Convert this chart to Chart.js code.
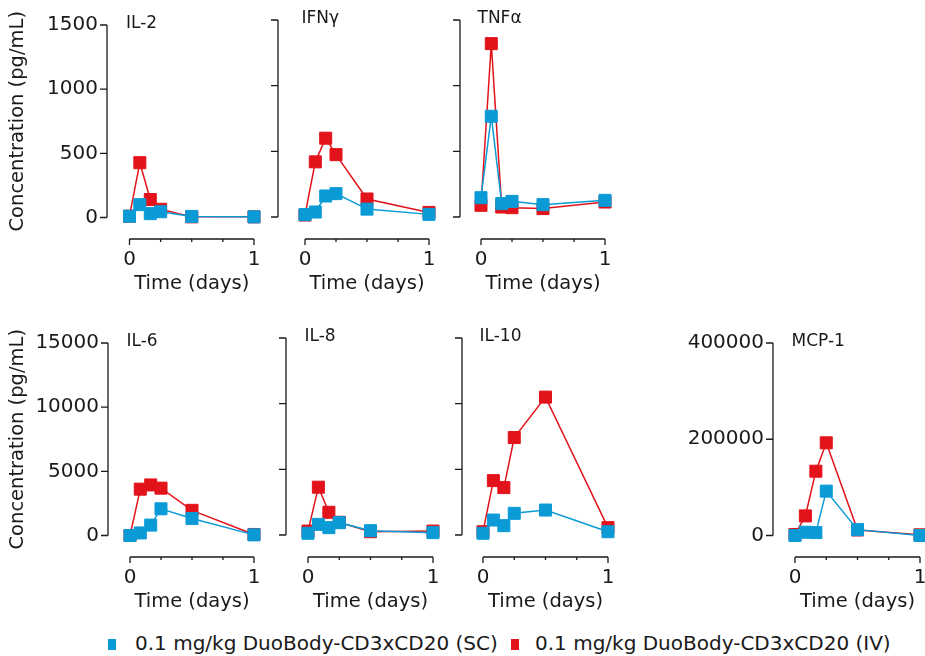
<!DOCTYPE html>
<html>
<head>
<meta charset="utf-8">
<script src="https://cdn.jsdelivr.net/npm/chart.js@4.4.1/dist/chart.umd.min.js"></script>
<style>
  body { margin: 0; background: #fff; }
  #page { position: relative; width: 925px; height: 656px; overflow: hidden; font-family: "DejaVu Sans", sans-serif; color: #1a1a1a; }
  #page canvas { position: absolute; }
  .lg-box { position: absolute; width: 8px; height: 11px; }
  .lg-text { position: absolute; font-size: 20px; line-height: 22px; white-space: nowrap; }
</style>
</head>
<body>
<div id="page">
  <span class="lg-box" style="left:108px; top:639px; background:#0a9bd7"></span>
  <span class="lg-text" id="lg-sc" style="left:135px; top:632px"></span>
  <span class="lg-box" style="left:511px; top:639px; background:#e3131b"></span>
  <span class="lg-text" id="lg-iv" style="left:535px; top:632px"></span>
</div>
<script>
// --- Data ---
const timeDays = [0, 0.083, 0.167, 0.25, 0.5, 1];
const timeTicks = [0, 0.25, 0.5, 0.75, 1];
const seriesNames = ['0.1 mg/kg DuoBody-CD3xCD20 (SC)', '0.1 mg/kg DuoBody-CD3xCD20 (IV)'];
const panelNames = ['IL-2', 'IFNγ', 'TNFα', 'IL-6', 'IL-8', 'IL-10', 'MCP-1'];

const il2SC  = [10, 100, 30, 45, 8, 5];
const il2IV  = [10, 427, 140, 64, 5, 5];
const ifngSC = [18, 38, 160, 178, 60, 20];
const ifngIV = [15, 420, 600, 475, 137, 35];
const tnfaSC = [147, 767, 102, 119, 94, 127];
const tnfaIV = [89, 1320, 76, 71, 64, 114];
const il6SC  = [0, 200, 810, 2080, 1320, 50];
const il6IV  = [0, 3610, 3940, 3690, 1960, 80];
const il8SC  = [130, 810, 560, 940, 330, 180];
const il8IV  = [300, 3640, 1730, 970, 250, 300];
const il10SC = [130, 1140, 710, 1650, 1900, 250];
const il10IV = [250, 4140, 3610, 7420, 10500, 560];
const mcp1SC = [0, 6800, 6100, 92200, 12200, 0];
const mcp1IV = [2000, 40700, 133600, 192600, 11500, 1400];

const yTicksSmall = [0, 500, 1000, 1500];
const yTicksMid   = [0, 5000, 10000, 15000];
const yTicksLarge = [0, 200000, 400000];

const scSets = [il2SC, ifngSC, tnfaSC, il6SC, il8SC, il10SC, mcp1SC];
const ivSets = [il2IV, ifngIV, tnfaIV, il6IV, il8IV, il10IV, mcp1IV];
const yTickSets = [yTicksSmall, yTicksSmall, yTicksSmall, yTicksMid, yTicksMid, yTicksMid, yTicksLarge];

// --- Layout: page pixel positions of each panel's axes ---
// axisX = y axis line, x0/x1 = pixel of day 0 / day 1, top = y max, zero = y 0, base = x axis line
const panelLayout = [
  { axisX: 107, x0: 129.5, x1: 254, top: 20,  zero: 217, base: 239, labels: true,  yTitle: true },
  { axisX: 278, x0: 305,   x1: 429, top: 20,  zero: 217, base: 239, labels: false, yTitle: false },
  { axisX: 460, x0: 481,   x1: 605, top: 20,  zero: 217, base: 239, labels: false, yTitle: false },
  { axisX: 108, x0: 130,   x1: 254, top: 338, zero: 535, base: 557, labels: true,  yTitle: true },
  { axisX: 286, x0: 308,   x1: 433, top: 338, zero: 535, base: 557, labels: false, yTitle: false },
  { axisX: 462, x0: 483,   x1: 608, top: 338, zero: 535, base: 557, labels: false, yTitle: false },
  { axisX: 773, x0: 795,   x1: 920, top: 338, zero: 535, base: 557, labels: true,  yTitle: false }
];

const BLUE = '#0a9bd7';
const RED = '#e3131b';
const INK = '#1a1a1a';
const FONT = '"DejaVu Sans", sans-serif';
const PAD_TOP = 16, PAD_RIGHT = 18, X_AXIS_H = 58;

document.getElementById('lg-sc').textContent = seriesNames[0];
document.getElementById('lg-iv').textContent = seriesNames[1];

// axis lines, tick marks, panel name and axis titles drawn against the chart's scales
const prismAxes = {
  id: 'prismAxes',
  beforeDatasetsDraw(chart, args, opts) {
    const { ctx, chartArea, scales: { x, y } } = chart;
    ctx.save();
    ctx.strokeStyle = INK;
    ctx.lineWidth = 1.3;
    ctx.beginPath();
    // y axis only spans 0..max
    const ax = chartArea.left;
    ctx.moveTo(ax, y.getPixelForValue(y.max));
    ctx.lineTo(ax, y.getPixelForValue(0));
    y.ticks.forEach(t => {
      const p = y.getPixelForValue(t.value);
      ctx.moveTo(ax - 7, p);
      ctx.lineTo(ax, p);
    });
    // detached x axis, 0..1 days
    const by = chartArea.bottom;
    ctx.moveTo(x.getPixelForValue(0), by);
    ctx.lineTo(x.getPixelForValue(1), by);
    x.ticks.forEach(t => {
      const p = x.getPixelForValue(t.value);
      const len = (t.value === 0 || t.value === 1) ? 6 : 3;
      ctx.moveTo(p, by);
      ctx.lineTo(p, by + len);
    });
    ctx.stroke();
    ctx.restore();
  },
  afterDraw(chart, args, opts) {
    const { ctx, chartArea, scales: { x, y } } = chart;
    ctx.save();
    ctx.fillStyle = INK;
    ctx.font = '17px ' + FONT;
    ctx.textBaseline = 'middle';
    ctx.textAlign = 'left';
    ctx.fillText(opts.name, x.getPixelForValue(0) - 3.5, y.getPixelForValue(y.max) - 1);

    // x title centred under the 0..1 axis line
    ctx.font = '19.5px ' + FONT;
    ctx.textAlign = 'center';
    ctx.fillText('Time (days)', (x.getPixelForValue(0) + x.getPixelForValue(1)) / 2, chartArea.bottom + 45);

    if (opts.yTitle) {
      const cy = (y.getPixelForValue(y.max) + y.getPixelForValue(0)) / 2;
      ctx.translate(18, cy);
      ctx.rotate(-Math.PI / 2);
      ctx.fillText('Concentration (pg/mL)', 0, 0);
    }
    ctx.restore();
  }
};

function makeSeries(label, values, color) {
  return {
    label: label,
    data: values.map((v, i) => ({ x: timeDays[i], y: v })),
    borderColor: color,
    backgroundColor: color,
    borderWidth: 1.5,
    pointStyle: 'rect',
    pointRadius: 8.5,
    pointHoverRadius: 8.5,
    pointBorderWidth: 1,
    tension: 0,
    clip: false
  };
}

const page = document.getElementById('page');

panelLayout.forEach((lay, i) => {
  const yTicks = yTickSets[i];
  const yMax = yTicks[yTicks.length - 1];
  const yMin = -(lay.base - lay.zero) / (lay.zero - lay.top) * yMax;
  const xMin = -(lay.x0 - lay.axisX) / (lay.x1 - lay.x0);
  const yw = lay.labels ? (lay.yTitle ? lay.axisX : 90) : 12;

  const canvas = document.createElement('canvas');
  const w = yw + (lay.x1 - lay.axisX) + PAD_RIGHT;
  const h = PAD_TOP + (lay.base - lay.top) + X_AXIS_H;
  canvas.width = w;
  canvas.height = h;
  canvas.style.left = (lay.axisX - yw) + 'px';
  canvas.style.top = (lay.top - PAD_TOP) + 'px';
  canvas.style.width = w + 'px';
  canvas.style.height = h + 'px';
  page.appendChild(canvas);

  new Chart(canvas, {
    type: 'line',
    data: {
      datasets: [
        makeSeries(seriesNames[0], scSets[i], BLUE),
        makeSeries(seriesNames[1], ivSets[i], RED)
      ]
    },
    options: {
      responsive: false,
      animation: false,
      devicePixelRatio: 1,
      layout: { padding: { top: PAD_TOP, right: PAD_RIGHT, left: 0, bottom: 0 } },
      plugins: {
        legend: { display: false },
        tooltip: { enabled: false },
        prismAxes: { name: panelNames[i], yTitle: lay.yTitle }
      },
      scales: {
        x: {
          type: 'linear',
          min: xMin,
          max: 1,
          afterFit: s => { s.height = X_AXIS_H; },
          afterBuildTicks: s => { s.ticks = timeTicks.map(v => ({ value: v })); },
          grid: { display: false, drawTicks: false },
          border: { display: false },
          ticks: {
            padding: 9,
            autoSkip: false,
            maxRotation: 0,
            color: INK,
            font: { family: FONT, size: 20 },
            callback: v => (v === 0 || v === 1) ? String(v) : ''
          }
        },
        y: {
          type: 'linear',
          min: yMin,
          max: yMax,
          afterFit: s => { s.width = yw; },
          afterBuildTicks: s => { s.ticks = yTicks.map(v => ({ value: v })); },
          grid: { display: false, drawTicks: false },
          border: { display: false },
          ticks: {
            display: lay.labels,
            padding: 9,
            color: INK,
            font: { family: FONT, size: 20 },
            callback: v => String(v)
          }
        }
      }
    },
    plugins: [prismAxes]
  });
});
</script>
</body>
</html>
